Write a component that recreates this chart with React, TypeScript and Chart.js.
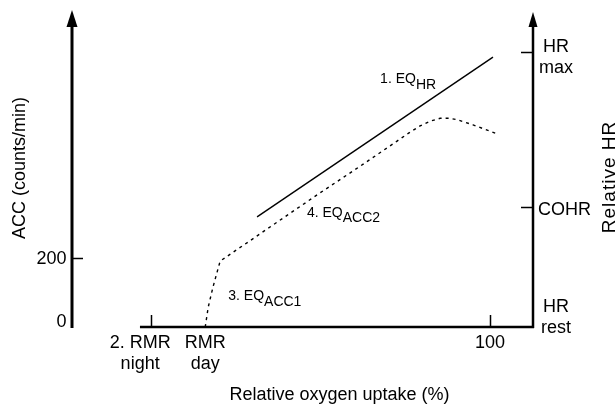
import { useEffect, useRef } from 'react';
import { Chart, registerables } from 'chart.js';

Chart.register(...registerables);

// ---- data (relative oxygen uptake %, ACC counts/min, relative HR %) ----
const xCategoryValues = [-3.2, 16, 100];
const xCategoryLabels = [['2. RMR', 'night'], ['RMR', 'day'], ['100']];
const xTickMarks = [0, 100];

const accTickValues = [0, 200];
const accTickLabels = ['0', '200'];

const hrTickValues = [0, 43.5, 100];
const hrTickLabels = [['HR', 'rest'], ['COHR'], ['HR', 'max']];
const hrTickMarks = [43.5, 100];

const eqHrX = [31.3, 100.9];
const eqHrY = [40, 98.1];

const eqAccX = [16, 16.9, 18.3, 20.4, 29.2, 39, 49, 62.6, 72.6, 76, 79.4, 82.5, 85.3, 88, 90.3, 95, 102.1];
const eqAccY = [0, 58, 116, 191, 250, 316, 383, 472, 539, 562, 583, 597, 605, 605, 601, 586, 560];

const eqLabelMain = ['1. EQ', '4. EQ', '3. EQ'];
const eqLabelSub = ['HR', 'ACC2', 'ACC1'];
const eqLabelAxis = ['y2', 'y', 'y'];
const eqLabelX = [67.6, 46.0, 22.8];
const eqLabelY = [88.5, 320, 78];

const xTitle = 'Relative oxygen uptake (%)';
const yTitle = 'ACC (counts/min)';
const y2Title = 'Relative HR';

// ---- styling ----
const FONT = '"Liberation Sans", Arial, Helvetica, sans-serif';
const MAIN = `18px ${FONT}`;
const EQ_MAIN = `14px ${FONT}`;
const EQ_SUB = `14px ${FONT}`;
const Y2_TITLE_FONT = `19px ${FONT}`;
const INK = '#000';
const AXIS_X_START = -3.25;

function arrowHead(ctx: CanvasRenderingContext2D, x: number, tipY: number, half: number, len: number) {
  ctx.beginPath();
  ctx.moveTo(x, tipY);
  ctx.lineTo(x - half, tipY + len);
  ctx.lineTo(x + half, tipY + len);
  ctx.closePath();
  ctx.fill();
}

const decorPlugin = {
  id: 'decor',
  beforeDatasetsDraw(chart: any) {
    const { ctx, chartArea, scales } = chart;
    const xs = scales.x, ys = scales.y, y2s = scales.y2;
    const lx = chartArea.left;
    const rx = chartArea.right;
    const by = ys.getPixelForValue(0);
    ctx.save();
    ctx.strokeStyle = INK;
    ctx.fillStyle = INK;
    ctx.lineCap = 'butt';

    // left axis with arrow
    ctx.lineWidth = 3;
    ctx.beginPath();
    ctx.moveTo(lx, by + 1);
    ctx.lineTo(lx, chartArea.top + 12);
    ctx.stroke();
    arrowHead(ctx, lx, chartArea.top, 5.5, 17);

    // right axis with arrow
    ctx.lineWidth = 2.5;
    ctx.beginPath();
    ctx.moveTo(rx, by + 1);
    ctx.lineTo(rx, chartArea.top + 14);
    ctx.stroke();
    arrowHead(ctx, rx, chartArea.top + 2, 4.5, 15);

    // bottom axis
    ctx.lineWidth = 2.5;
    ctx.beginPath();
    ctx.moveTo(xs.getPixelForValue(AXIS_X_START), by);
    ctx.lineTo(rx + 1, by);
    ctx.stroke();

    // tick marks
    ctx.lineWidth = 1.5;
    xTickMarks.forEach((v) => {
      const px = Math.round(xs.getPixelForValue(v)) + 0.5;
      ctx.beginPath();
      ctx.moveTo(px, by);
      ctx.lineTo(px, by - 12);
      ctx.stroke();
    });
    accTickValues.forEach((v) => {
      if (v === 0) return;
      const py = Math.round(ys.getPixelForValue(v)) + 0.5;
      ctx.beginPath();
      ctx.moveTo(lx, py);
      ctx.lineTo(lx + 11, py);
      ctx.stroke();
    });
    hrTickMarks.forEach((v) => {
      const py = Math.round(y2s.getPixelForValue(v)) + 0.5;
      ctx.beginPath();
      ctx.moveTo(rx - 12, py);
      ctx.lineTo(rx, py);
      ctx.stroke();
    });
    ctx.restore();
  },
  afterDraw(chart: any) {
    const { ctx, chartArea, scales } = chart;
    const xs = scales.x, ys = scales.y, y2s = scales.y2;
    const lx = chartArea.left;
    const rx = chartArea.right;
    const by = ys.getPixelForValue(0);
    ctx.save();
    ctx.fillStyle = INK;
    ctx.font = MAIN;

    // x category labels
    ctx.textAlign = 'center';
    ctx.textBaseline = 'alphabetic';
    xCategoryValues.forEach((v, i) => {
      const px = xs.getPixelForValue(v);
      xCategoryLabels[i].forEach((line, j) => {
        ctx.fillText(line, px, by + 21 + j * 21);
      });
    });

    // left tick labels
    ctx.textAlign = 'right';
    ctx.textBaseline = 'middle';
    accTickValues.forEach((v, i) => {
      const py = Math.min(ys.getPixelForValue(v) + 1, by - 5);
      ctx.fillText(accTickLabels[i], lx - 5.5, py);
    });

    // right tick labels
    ctx.textBaseline = 'alphabetic';
    hrTickValues.forEach((v, i) => {
      const py = y2s.getPixelForValue(v);
      const lines = hrTickLabels[i];
      if (lines.length === 1) {
        ctx.textAlign = 'left';
        ctx.fillText(lines[0], rx + 5, py + 7.5);
      } else {
        ctx.textAlign = 'center';
        const start = v === 0 ? py - 15 : py + 0.5;
        lines.forEach((line, j) => ctx.fillText(line, rx + 23, start + j * 21));
      }
    });

    // equation labels
    ctx.textAlign = 'left';
    eqLabelMain.forEach((main, i) => {
      const scale = eqLabelAxis[i] === 'y2' ? y2s : ys;
      const px = xs.getPixelForValue(eqLabelX[i]);
      const py = scale.getPixelForValue(eqLabelY[i]);
      ctx.font = EQ_MAIN;
      ctx.fillText(main, px, py);
      const w = ctx.measureText(main).width;
      ctx.font = EQ_SUB;
      ctx.fillText(eqLabelSub[i], px + w, py + 5.5);
    });

    // axis titles
    ctx.font = MAIN;
    ctx.textAlign = 'center';
    ctx.fillText(xTitle, (xs.getPixelForValue(AXIS_X_START) + rx) / 2 + 3, 400);

    ctx.save();
    ctx.translate(25, 168);
    ctx.rotate(-Math.PI / 2);
    ctx.fillText(yTitle, 0, 0);
    ctx.restore();

    ctx.save();
    ctx.translate(615, 177);
    ctx.rotate(-Math.PI / 2);
    ctx.font = Y2_TITLE_FONT;
    try { (ctx as any).letterSpacing = '1px'; } catch (e) { /* ignore */ }
    ctx.fillText(y2Title, 0, 0);
    ctx.restore();

    ctx.restore();
  },
};

export default function App() {
  const canvasRef = useRef<HTMLCanvasElement | null>(null);

  useEffect(() => {
    const canvas = canvasRef.current;
    if (!canvas) return;
    const chart = new Chart(canvas, {
      type: 'scatter',
      data: {
        datasets: [
          {
            label: 'EQ HR',
            data: eqHrX.map((x, i) => ({ x, y: eqHrY[i] })),
            yAxisID: 'y2',
            showLine: true,
            borderColor: INK,
            borderWidth: 1.4,
            pointRadius: 0,
            tension: 0,
          },
          {
            label: 'EQ ACC',
            data: eqAccX.map((x, i) => ({ x, y: eqAccY[i] })),
            yAxisID: 'y',
            showLine: true,
            borderColor: INK,
            borderWidth: 1.4,
            borderDash: [3, 4],
            pointRadius: 0,
            tension: 0,
          },
        ],
      },
      options: {
        responsive: false,
        animation: false,
        events: [],
        layout: { padding: { left: 72, right: 83, top: 10, bottom: 78 } },
        plugins: {
          legend: { display: false },
          tooltip: { enabled: false },
        },
        scales: {
          x: { type: 'linear', min: -23.3, max: 112.7, display: false },
          y: { type: 'linear', min: 0, max: 919, display: false },
          y2: { type: 'linear', min: 0, max: 115.2, display: false, position: 'right' },
        },
      },
      plugins: [decorPlugin],
    });
    return () => chart.destroy();
  }, []);

  return (
    <div style={{ position: 'absolute', left: 0, top: 0, width: 616, height: 405, background: '#fff' }}>
      <canvas ref={canvasRef} width={616} height={405} style={{ display: 'block' }} />
    </div>
  );
}
